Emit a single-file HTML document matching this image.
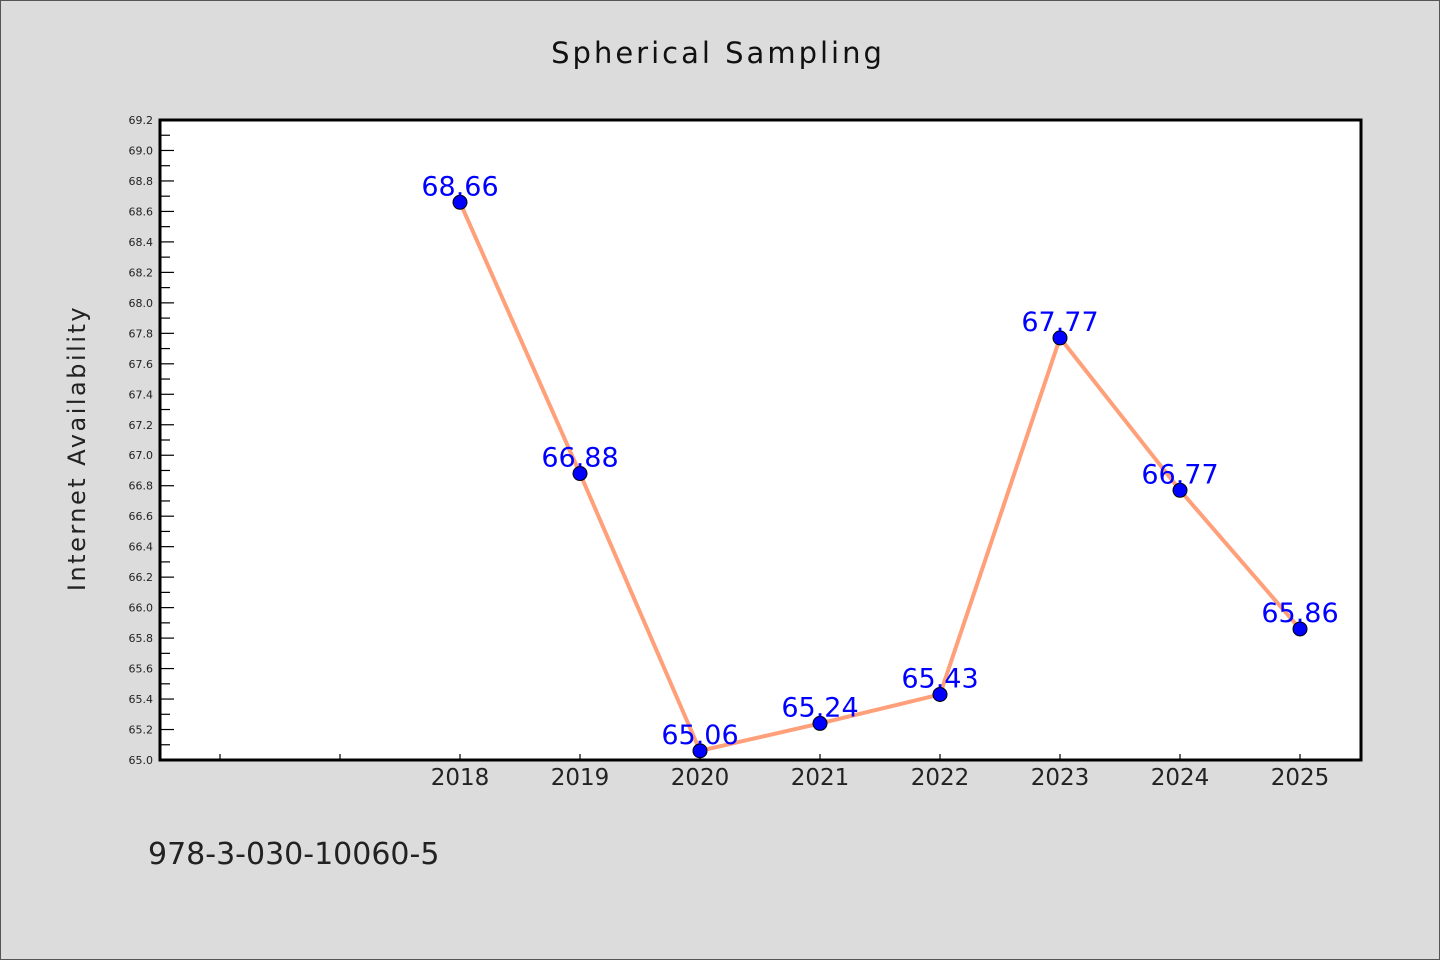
<!DOCTYPE html>
<html><head><meta charset="utf-8"><style>
html,body{margin:0;padding:0;background:#dcdcdc;}
svg{display:block;}
text{font-family:"WenQuanYi Zen Hei","DejaVu Sans",sans-serif;}
</style></head><body>
<svg id="chart" width="1440" height="960" viewBox="0 0 1440 960" xmlns="http://www.w3.org/2000/svg">
<rect x="0.5" y="0.5" width="1439" height="959" fill="#dcdcdc" stroke="#555"/>
<text x="718" y="63" text-anchor="middle" font-size="29" letter-spacing="3" fill="#111">Spherical Sampling</text>
<rect x="160" y="120" width="1201" height="640" fill="#fff"/>
<g id="yaxis"></g>
<g id="xaxis"></g>
<g id="series"></g>
<rect x="160" y="120" width="1201" height="640" fill="none" stroke="#000" stroke-width="3"/>
<text transform="translate(85,448) rotate(-90)" text-anchor="middle" font-size="24" letter-spacing="2.5" fill="#222">Internet Availability</text>
<text x="148" y="864" font-size="30" fill="#222">978-3-030-10060-5</text>
</svg>
<script>
const categories = ["", "", "2018", "2019", "2020", "2021", "2022", "2023", "2024", "2025"];
const values = [null, null, 68.66, 66.88, 65.06, 65.24, 65.43, 67.77, 66.77, 65.86];
const valueLabels = ["", "", "68.66", "66.88", "65.06", "65.24", "65.43", "67.77", "66.77", "65.86"];
const yTicks = ["65.0","65.2","65.4","65.6","65.8","66.0","66.2","66.4","66.6","66.8","67.0","67.2","67.4","67.6","67.8","68.0","68.2","68.4","68.6","68.8","69.0","69.2"];

const NS = "http://www.w3.org/2000/svg";
const yMin = 65.0, yMax = 69.2, plotTop = 120, plotBottom = 760, plotLeft = 160;
function y(v){ return plotBottom - (v - yMin) / (yMax - yMin) * (plotBottom - plotTop); }
function x(i){ return 220 + 120 * i; }
function mk(tag, attrs, parent){ const e = document.createElementNS(NS, tag); for (const k in attrs) e.setAttribute(k, attrs[k]); parent.appendChild(e); return e; }

const ya = document.getElementById("yaxis");
yTicks.forEach((t, i) => {
  const v = parseFloat(t), yy = y(v);
  const l = mk("line", {x1: plotLeft, x2: plotLeft + 14, y1: yy, y2: yy, stroke: "#000", "stroke-width": 1.2}, ya);
  
  
  const tx = mk("text", {x: 153, y: yy + 4, "text-anchor": "end", "font-size": 11, fill: "#222"}, ya);
  tx.textContent = t;
  
  
  if (i < yTicks.length - 1) {
    const ym = y(v + 0.1);
    const m = mk("line", {x1: plotLeft, x2: plotLeft + 10, y1: ym, y2: ym, stroke: "#000", "stroke-width": 1.2}, ya);
    
    
  }
});

const xa = document.getElementById("xaxis");
categories.forEach((c, i) => {
  const xx = x(i);
  const l = mk("line", {x1: xx, x2: xx, y1: plotBottom, y2: plotBottom - 6, stroke: "#000", "stroke-width": 1.2}, xa);
  
  
  const tx = mk("text", {x: xx, y: 785, "text-anchor": "middle", "font-size": 23, fill: "#222"}, xa);
  tx.textContent = c;
  
  
});

const sg = document.getElementById("series");
const pts = [];
values.forEach((v, i) => { if (v !== null) pts.push([x(i), y(v), i]); });
const line = mk("polyline", {points: pts.map(p => p[0] + "," + p[1]).join(" "), fill: "none", stroke: "#ffa07a", "stroke-width": 4, "stroke-linejoin": "round"}, sg);


pts.forEach(p => {
  const c = mk("circle", {cx: p[0], cy: p[1], r: 7, fill: "#0000ff", stroke: "#000", "stroke-width": 1}, sg);
  
  
});
pts.forEach(p => {
  const t = mk("text", {x: p[0], y: p[1] - 7, "text-anchor": "middle", "font-size": 27, fill: "#0000ff"}, sg);
  t.textContent = valueLabels[p[2]];
  
  
});
</script>
</body></html>
